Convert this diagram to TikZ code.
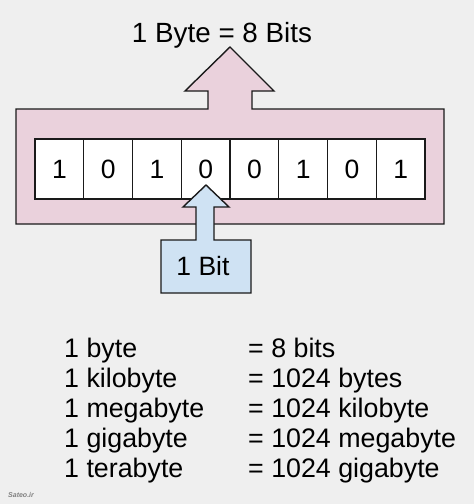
\documentclass[tikz,border=0pt]{standalone}
\usepackage{fontspec}
\setmainfont{Liberation Sans}
\definecolor{bgc}{HTML}{EFEFEF}
\definecolor{pinkc}{HTML}{EAD1DC}
\definecolor{bluec}{HTML}{CFE2F3}
\definecolor{linec}{HTML}{1A1A1A}
\begin{document}
\begin{tikzpicture}[x=1pt,y=-1pt,
  shapeline/.style={draw=linec,line width=1.4pt,line join=miter},
  bitcell/.style={draw=linec,line width=1.4pt,fill=white,minimum width=48.75pt,minimum height=60pt,inner sep=0pt,font=\fontsize{26.5}{30}\selectfont},
  bigtext/.style={inner sep=0pt,font=\fontsize{27.8}{32}\selectfont},
  listtext/.style={inner sep=0pt,anchor=base west,font=\fontsize{26.8}{30}\selectfont}]
\fill[bgc] (0,0) rectangle (474,504);
\useasboundingbox (0,0) rectangle (474,504);
% pink frame with up arrow
\path[shapeline,fill=pinkc] (16,109) -- (208,109) -- (208,91) -- (185,91) -- (230,47) -- (274,91) -- (252,91) -- (252,109) -- (444,109) -- (444,224) -- (16,224) -- cycle;
% title
\node[bigtext,anchor=base] (title) at (222,42) {1 Byte = 8 Bits};
% cells
\foreach \i/\b in {1/1,2/0,3/1,4/0,5/0,6/1,7/0,8/1}{
  \node[bitcell] (c\i) at ({35+48.75*(\i-0.5)},169) {\b};
}
% blue arrow with box
\path[shapeline,fill=bluec] (161,240) -- (196,240) -- (196,207) -- (183,207) -- (206,185) -- (229,207) -- (214,207) -- (214,240) -- (251,240) -- (251,293) -- (161,293) -- cycle;
\node[inner sep=0pt,anchor=base,font=\fontsize{26.5}{30}\selectfont] (bit) at (203,275) {1 Bit};
% list
\foreach \k/\l/\r in {0/1 byte/= 8 bits,1/1 kilobyte/= 1024 bytes,2/1 megabyte/= 1024 kilobyte,3/1 gigabyte/= 1024 megabyte,4/1 terabyte/= 1024 gigabyte}{
  \node[listtext] (l\k) at (64,357+30*\k) {\l};
  \node[listtext] (r\k) at (248,357+30*\k) {\r};
}
% watermark
\node[inner sep=0pt,anchor=base west,text=gray,font=\fontsize{7}{8}\selectfont\bfseries\itshape] (wm) at (8,497) {Sateo.ir};
\end{tikzpicture}
\end{document}
